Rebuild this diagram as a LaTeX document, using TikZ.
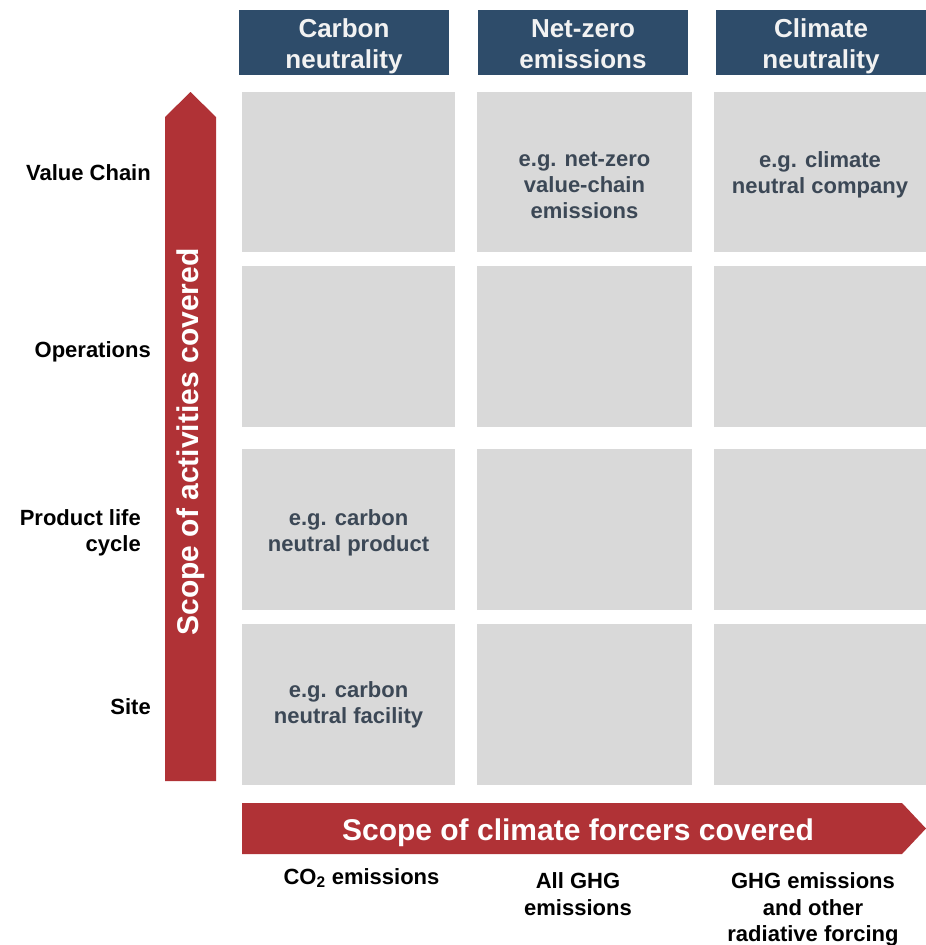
\documentclass[tikz,border=0pt]{standalone}
\usepackage{fontspec}
\setmainfont{Liberation Sans}
\begin{document}
\begin{tikzpicture}[x=1pt,y=-1pt,
  hdr/.style={fill=hdrblue,inner sep=0pt,minimum height=65pt},
  hdrtxt/.style={text=hdrtext,inner sep=0pt,align=center,font=\bfseries\fontsize{26}{31}\selectfont},
  cell/.style={fill=cellgrey,inner sep=0pt,minimum height=160pt},
  celltxt/.style={text=celltext,inner sep=0pt,align=center,font=\bfseries\fontsize{22}{26}\selectfont},
  rowlab/.style={anchor=east,inner sep=0pt,align=right,font=\bfseries\fontsize{22}{26}\selectfont},
  collab/.style={inner sep=0pt,align=center,font=\bfseries\fontsize{22}{26.5}\selectfont},
  arrtxt/.style={text=white,inner sep=0pt,font=\bfseries\fontsize{30}{36}\selectfont},
  bigarrow/.style={fill=arrred,draw=none}]
\definecolor{hdrblue}{HTML}{2E4C6A}
\definecolor{hdrtext}{HTML}{F2F2F2}
\definecolor{cellgrey}{HTML}{D9D9D9}
\definecolor{celltext}{HTML}{3C4856}
\definecolor{arrred}{HTML}{B03236}
\useasboundingbox (0,0) rectangle (926,945);

% headers
\node[hdr,minimum width=210pt] (h1) at (344,42.5) {};
\node[hdr,minimum width=210pt] (h2) at (583,42.5) {};
\node[hdr,minimum width=210pt] (h3) at (821,42.5) {};
\node[hdrtxt] (ht1) at (344,46.5) {Carbon\\neutrality};
\node[hdrtxt] (ht2) at (583,44.5) {Net-zero\\emissions};
\node[hdrtxt] (ht3) at (821,46.5) {Climate\\neutrality};

% cells
\foreach \r/\y/\h in {1/172/160,2/346.5/161,3/529.5/161,4/704.5/161}{
  \node[cell,minimum width=213pt,minimum height=\h pt] (c1\r) at (348.5,\y) {};
  \node[cell,minimum width=215pt,minimum height=\h pt] (c2\r) at (584.5,\y) {};
  \node[cell,minimum width=212pt,minimum height=\h pt] (c3\r) at (820,\y) {};
}

% cell texts
\node[celltxt] (t21) at (584.5,185) {e.g. net-zero\\value-chain\\emissions};
\node[celltxt] (t31) at (820,175) {e.g. climate\\neutral company};
\node[celltxt] (t13) at (348.5,532.5) {e.g. carbon\\neutral product};
\node[celltxt] (t14) at (348.5,704.5) {e.g. carbon\\neutral facility};

% row labels
\node[rowlab] (r1) at (151,173) {Value Chain};
\node[rowlab] (r2) at (151,352) {Operations};
\node[rowlab] (r3) at (141,533) {Product life\\cycle};
\node[rowlab] (r4) at (151,707) {Site};

% vertical arrow
\fill[bigarrow] (165,781) -- (165,117) -- (190.5,92) -- (216,117) -- (216,781) -- cycle;
\node[arrtxt,rotate=90] (va) at (191,442) {Scope of activities covered};

% horizontal arrow
\fill[bigarrow] (242,803) -- (902,803) -- (926,828.5) -- (902,854) -- (242,854) -- cycle;
\node[arrtxt] (ha) at (578,832.5) {Scope of climate forcers covered};

% column labels
\node[collab] (b1) at (361.5,878) {CO\textsubscript{2} emissions};
\node[collab] (b2) at (578,894) {All GHG\\emissions};
\node[collab] (b3) at (813,909.5) {GHG emissions\\and other\\radiative forcing};
\end{tikzpicture}
\end{document}
